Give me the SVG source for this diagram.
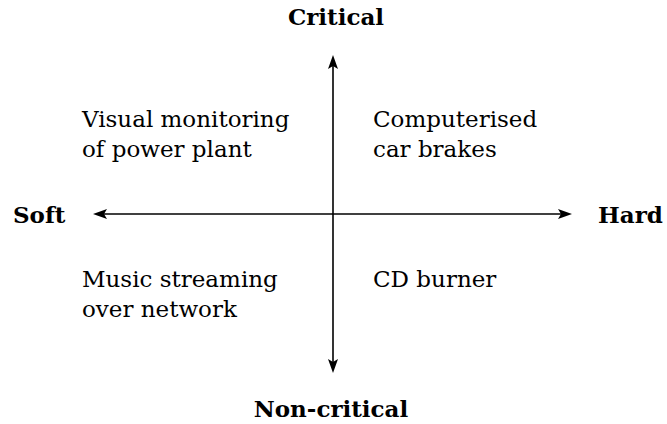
<svg xmlns="http://www.w3.org/2000/svg" width="667" height="424" viewBox="0 0 667 424">
  <style>
    .lbl { font-family: "DejaVu Serif", serif; font-size: 23px; fill: #000; }
    .ax { font-family: "DejaVu Serif", serif; font-size: 23px; font-weight: bold; fill: #000; }
    .axis { stroke: #000; stroke-width: 1.6; fill: none; }
  </style>
  <defs>
    <marker id="arr" viewBox="0 0 14 10" refX="8" refY="5" markerWidth="14" markerHeight="10" markerUnits="userSpaceOnUse" orient="auto-start-reverse">
      <path d="M0,0 L14,5 L0,10 L3,5 Z" fill="#000"/>
    </marker>
  </defs>
  <rect width="667" height="424" fill="#fff"/>
  <g id="connectors">
    <line class="axis" x1="333" y1="61" x2="333" y2="367" marker-start="url(#arr)" marker-end="url(#arr)"/>
    <line class="axis" x1="99" y1="214" x2="566" y2="214" marker-start="url(#arr)" marker-end="url(#arr)"/>
  </g>
  <g id="critical"><text class="ax" x="336" y="25" text-anchor="middle">Critical</text></g>
  <g id="noncritical"><text class="ax" x="331" y="417" text-anchor="middle">Non-critical</text></g>
  <g id="soft"><text class="ax" x="13" y="223">Soft</text></g>
  <g id="hard"><text class="ax" x="598" y="223">Hard</text></g>
  <g id="q-visual"><text class="lbl" x="82" y="127">Visual monitoring</text><text class="lbl" x="82" y="157">of power plant</text></g>
  <g id="q-computer"><text class="lbl" x="373" y="127">Computerised</text><text class="lbl" x="373" y="157">car brakes</text></g>
  <g id="q-music"><text class="lbl" x="82" y="287">Music streaming</text><text class="lbl" x="82" y="317">over network</text></g>
  <g id="q-cd"><text class="lbl" x="373" y="287">CD burner</text></g>
</svg>
